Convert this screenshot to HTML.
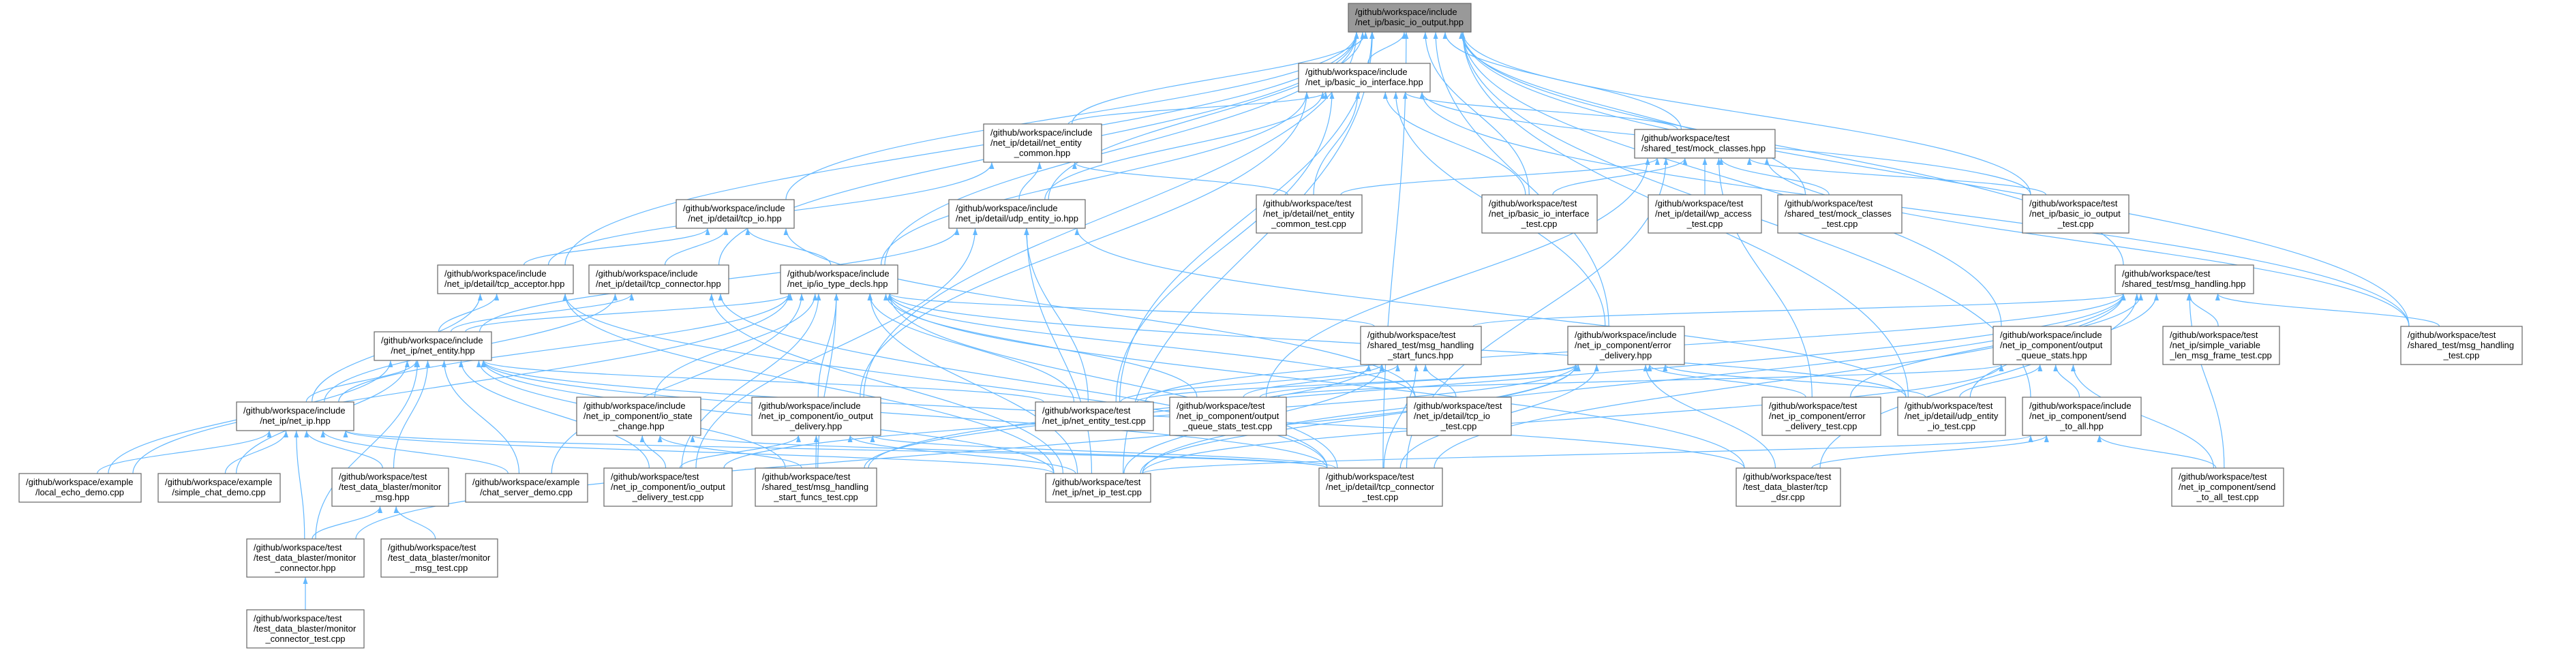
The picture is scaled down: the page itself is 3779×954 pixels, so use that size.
<!DOCTYPE html>
<html><head><meta charset="utf-8">
<style>
html,body{margin:0;padding:0;background:#fff;}
svg{display:block;}
text{font-family:"Liberation Sans",sans-serif;font-size:13px;fill:#000;}
</style></head><body>
<svg id="g" width="3779" height="954" viewBox="0 0 3779 954" xmlns="http://www.w3.org/2000/svg">
<defs><marker id="ar" viewBox="0 0 10 7" refX="10" refY="3.5" markerWidth="10" markerHeight="7" markerUnits="userSpaceOnUse" orient="auto"><path d="M0,0 L10,3.5 L0,7 z" fill="#63b8ff"/></marker></defs>
<g id="edges" fill="none" stroke="#63b8ff" stroke-width="1.2"></g>
<g id="nodes" stroke="#666" stroke-width="1.2">
<rect x="1978" y="5" width="180" height="42" fill="#999"/><text x="1988" y="22" stroke="none">/github/workspace/include</text><text x="1988" y="37" stroke="none">/net_ip/basic_io_output.hpp</text>
<rect x="1905" y="93" width="193" height="42" fill="#fff"/><text x="1915" y="110" stroke="none">/github/workspace/include</text><text x="1915" y="125" stroke="none">/net_ip/basic_io_interface.hpp</text>
<rect x="1443" y="182" width="173" height="56" fill="#fff"/><text x="1453" y="199" stroke="none">/github/workspace/include</text><text x="1453" y="214" stroke="none">/net_ip/detail/net_entity</text><text x="1529" y="229" stroke="none" text-anchor="middle">_common.hpp</text>
<rect x="2398" y="190" width="206" height="42" fill="#fff"/><text x="2408" y="207" stroke="none">/github/workspace/test</text><text x="2408" y="222" stroke="none">/shared_test/mock_classes.hpp</text>
<rect x="992" y="293" width="173" height="42" fill="#fff"/><text x="1002" y="310" stroke="none">/github/workspace/include</text><text x="1078" y="325" stroke="none" text-anchor="middle">/net_ip/detail/tcp_io.hpp</text>
<rect x="1392" y="293" width="200" height="42" fill="#fff"/><text x="1402" y="310" stroke="none">/github/workspace/include</text><text x="1402" y="325" stroke="none">/net_ip/detail/udp_entity_io.hpp</text>
<rect x="1843" y="286" width="155" height="56" fill="#fff"/><text x="1853" y="303" stroke="none">/github/workspace/test</text><text x="1853" y="318" stroke="none">/net_ip/detail/net_entity</text><text x="1920" y="333" stroke="none" text-anchor="middle">_common_test.cpp</text>
<rect x="2174" y="286" width="169" height="56" fill="#fff"/><text x="2184" y="303" stroke="none">/github/workspace/test</text><text x="2184" y="318" stroke="none">/net_ip/basic_io_interface</text><text x="2258" y="333" stroke="none" text-anchor="middle">_test.cpp</text>
<rect x="2418" y="286" width="166" height="56" fill="#fff"/><text x="2428" y="303" stroke="none">/github/workspace/test</text><text x="2428" y="318" stroke="none">/net_ip/detail/wp_access</text><text x="2501" y="333" stroke="none" text-anchor="middle">_test.cpp</text>
<rect x="2608" y="286" width="182" height="56" fill="#fff"/><text x="2618" y="303" stroke="none">/github/workspace/test</text><text x="2618" y="318" stroke="none">/shared_test/mock_classes</text><text x="2699" y="333" stroke="none" text-anchor="middle">_test.cpp</text>
<rect x="2967" y="286" width="156" height="56" fill="#fff"/><text x="2977" y="303" stroke="none">/github/workspace/test</text><text x="2977" y="318" stroke="none">/net_ip/basic_io_output</text><text x="3045" y="333" stroke="none" text-anchor="middle">_test.cpp</text>
<rect x="642" y="389" width="199" height="42" fill="#fff"/><text x="652" y="406" stroke="none">/github/workspace/include</text><text x="652" y="421" stroke="none">/net_ip/detail/tcp_acceptor.hpp</text>
<rect x="864" y="389" width="205" height="42" fill="#fff"/><text x="874" y="406" stroke="none">/github/workspace/include</text><text x="874" y="421" stroke="none">/net_ip/detail/tcp_connector.hpp</text>
<rect x="1145" y="389" width="172" height="42" fill="#fff"/><text x="1155" y="406" stroke="none">/github/workspace/include</text><text x="1155" y="421" stroke="none">/net_ip/io_type_decls.hpp</text>
<rect x="3103" y="389" width="203" height="42" fill="#fff"/><text x="3113" y="406" stroke="none">/github/workspace/test</text><text x="3113" y="421" stroke="none">/shared_test/msg_handling.hpp</text>
<rect x="549" y="487" width="172" height="42" fill="#fff"/><text x="559" y="504" stroke="none">/github/workspace/include</text><text x="635" y="519" stroke="none" text-anchor="middle">/net_ip/net_entity.hpp</text>
<rect x="1996" y="479" width="177" height="56" fill="#fff"/><text x="2006" y="496" stroke="none">/github/workspace/test</text><text x="2006" y="511" stroke="none">/shared_test/msg_handling</text><text x="2084" y="526" stroke="none" text-anchor="middle">_start_funcs.hpp</text>
<rect x="2300" y="479" width="171" height="56" fill="#fff"/><text x="2310" y="496" stroke="none">/github/workspace/include</text><text x="2310" y="511" stroke="none">/net_ip_component/error</text><text x="2385" y="526" stroke="none" text-anchor="middle">_delivery.hpp</text>
<rect x="2924" y="479" width="173" height="56" fill="#fff"/><text x="2934" y="496" stroke="none">/github/workspace/include</text><text x="2934" y="511" stroke="none">/net_ip_component/output</text><text x="3010" y="526" stroke="none" text-anchor="middle">_queue_stats.hpp</text>
<rect x="3173" y="479" width="171" height="56" fill="#fff"/><text x="3183" y="496" stroke="none">/github/workspace/test</text><text x="3183" y="511" stroke="none">/net_ip/simple_variable</text><text x="3258" y="526" stroke="none" text-anchor="middle">_len_msg_frame_test.cpp</text>
<rect x="3522" y="479" width="178" height="56" fill="#fff"/><text x="3532" y="496" stroke="none">/github/workspace/test</text><text x="3532" y="511" stroke="none">/shared_test/msg_handling</text><text x="3611" y="526" stroke="none" text-anchor="middle">_test.cpp</text>
<rect x="347" y="590" width="172" height="42" fill="#fff"/><text x="357" y="607" stroke="none">/github/workspace/include</text><text x="433" y="622" stroke="none" text-anchor="middle">/net_ip/net_ip.hpp</text>
<rect x="846" y="583" width="182" height="56" fill="#fff"/><text x="856" y="600" stroke="none">/github/workspace/include</text><text x="856" y="615" stroke="none">/net_ip_component/io_state</text><text x="937" y="630" stroke="none" text-anchor="middle">_change.hpp</text>
<rect x="1103" y="583" width="189" height="56" fill="#fff"/><text x="1113" y="600" stroke="none">/github/workspace/include</text><text x="1113" y="615" stroke="none">/net_ip_component/io_output</text><text x="1197" y="630" stroke="none" text-anchor="middle">_delivery.hpp</text>
<rect x="1519" y="590" width="173" height="42" fill="#fff"/><text x="1529" y="607" stroke="none">/github/workspace/test</text><text x="1529" y="622" stroke="none">/net_ip/net_entity_test.cpp</text>
<rect x="1716" y="583" width="171" height="56" fill="#fff"/><text x="1726" y="600" stroke="none">/github/workspace/test</text><text x="1726" y="615" stroke="none">/net_ip_component/output</text><text x="1801" y="630" stroke="none" text-anchor="middle">_queue_stats_test.cpp</text>
<rect x="2064" y="583" width="153" height="56" fill="#fff"/><text x="2074" y="600" stroke="none">/github/workspace/test</text><text x="2074" y="615" stroke="none">/net_ip/detail/tcp_io</text><text x="2140" y="630" stroke="none" text-anchor="middle">_test.cpp</text>
<rect x="2585" y="583" width="174" height="56" fill="#fff"/><text x="2595" y="600" stroke="none">/github/workspace/test</text><text x="2595" y="615" stroke="none">/net_ip_component/error</text><text x="2672" y="630" stroke="none" text-anchor="middle">_delivery_test.cpp</text>
<rect x="2784" y="583" width="158" height="56" fill="#fff"/><text x="2794" y="600" stroke="none">/github/workspace/test</text><text x="2794" y="615" stroke="none">/net_ip/detail/udp_entity</text><text x="2863" y="630" stroke="none" text-anchor="middle">_io_test.cpp</text>
<rect x="2967" y="583" width="174" height="56" fill="#fff"/><text x="2977" y="600" stroke="none">/github/workspace/include</text><text x="2977" y="615" stroke="none">/net_ip_component/send</text><text x="3054" y="630" stroke="none" text-anchor="middle">_to_all.hpp</text>
<rect x="28" y="695" width="179" height="42" fill="#fff"/><text x="38" y="712" stroke="none">/github/workspace/example</text><text x="117" y="727" stroke="none" text-anchor="middle">/local_echo_demo.cpp</text>
<rect x="232" y="695" width="179" height="42" fill="#fff"/><text x="242" y="712" stroke="none">/github/workspace/example</text><text x="321" y="727" stroke="none" text-anchor="middle">/simple_chat_demo.cpp</text>
<rect x="487" y="687" width="171" height="56" fill="#fff"/><text x="497" y="704" stroke="none">/github/workspace/test</text><text x="497" y="719" stroke="none">/test_data_blaster/monitor</text><text x="572" y="734" stroke="none" text-anchor="middle">_msg.hpp</text>
<rect x="683" y="695" width="179" height="42" fill="#fff"/><text x="693" y="712" stroke="none">/github/workspace/example</text><text x="772" y="727" stroke="none" text-anchor="middle">/chat_server_demo.cpp</text>
<rect x="886" y="687" width="188" height="56" fill="#fff"/><text x="896" y="704" stroke="none">/github/workspace/test</text><text x="896" y="719" stroke="none">/net_ip_component/io_output</text><text x="980" y="734" stroke="none" text-anchor="middle">_delivery_test.cpp</text>
<rect x="1108" y="687" width="178" height="56" fill="#fff"/><text x="1118" y="704" stroke="none">/github/workspace/test</text><text x="1118" y="719" stroke="none">/shared_test/msg_handling</text><text x="1197" y="734" stroke="none" text-anchor="middle">_start_funcs_test.cpp</text>
<rect x="1534" y="695" width="154" height="42" fill="#fff"/><text x="1544" y="712" stroke="none">/github/workspace/test</text><text x="1544" y="727" stroke="none">/net_ip/net_ip_test.cpp</text>
<rect x="1935" y="687" width="181" height="56" fill="#fff"/><text x="1945" y="704" stroke="none">/github/workspace/test</text><text x="1945" y="719" stroke="none">/net_ip/detail/tcp_connector</text><text x="2025" y="734" stroke="none" text-anchor="middle">_test.cpp</text>
<rect x="2547" y="687" width="153" height="56" fill="#fff"/><text x="2557" y="704" stroke="none">/github/workspace/test</text><text x="2557" y="719" stroke="none">/test_data_blaster/tcp</text><text x="2623" y="734" stroke="none" text-anchor="middle">_dsr.cpp</text>
<rect x="3186" y="687" width="164" height="56" fill="#fff"/><text x="3196" y="704" stroke="none">/github/workspace/test</text><text x="3196" y="719" stroke="none">/net_ip_component/send</text><text x="3268" y="734" stroke="none" text-anchor="middle">_to_all_test.cpp</text>
<rect x="362" y="791" width="172" height="56" fill="#fff"/><text x="372" y="808" stroke="none">/github/workspace/test</text><text x="372" y="823" stroke="none">/test_data_blaster/monitor</text><text x="448" y="838" stroke="none" text-anchor="middle">_connector.hpp</text>
<rect x="559" y="791" width="171" height="56" fill="#fff"/><text x="569" y="808" stroke="none">/github/workspace/test</text><text x="569" y="823" stroke="none">/test_data_blaster/monitor</text><text x="644" y="838" stroke="none" text-anchor="middle">_msg_test.cpp</text>
<rect x="362" y="895" width="172" height="56" fill="#fff"/><text x="372" y="912" stroke="none">/github/workspace/test</text><text x="372" y="927" stroke="none">/test_data_blaster/monitor</text><text x="448" y="942" stroke="none" text-anchor="middle">_connector_test.cpp</text>
</g>
</svg>
<script>
var N={A:[1978,5,180,42],B:[1905,93,193,42],C:[1443,182,173,56],D:[2398,190,206,42],E:[992,293,173,42],F:[1392,293,200,42],G:[1843,286,155,56],H:[2174,286,169,56],I:[2418,286,166,56],J:[2608,286,182,56],K:[2967,286,156,56],L:[642,389,199,42],M:[864,389,205,42],Nn:[1145,389,172,42],O:[3103,389,203,42],P:[549,487,172,42],Q:[1996,479,177,56],R:[2300,479,171,56],S:[2924,479,173,56],T:[3173,479,171,56],U:[3522,479,178,56],V:[347,590,172,42],W:[846,583,182,56],X:[1103,583,189,56],Y:[1519,590,173,42],Z:[1716,583,171,56],a:[2064,583,153,56],b:[2585,583,174,56],c:[2784,583,158,56],d:[2967,583,174,56],e:[28,695,179,42],f:[232,695,179,42],g:[487,687,171,56],h:[683,695,179,42],i:[886,687,188,56],j:[1108,687,178,56],k:[1534,695,154,42],l:[1935,687,181,56],m:[2547,687,153,56],n:[3186,687,164,56],o:[362,791,172,56],p:[559,791,171,56],q:[362,895,172,56]};
var E={A:"B D E F L M Nn H K J O R S d c k Y l U X C",B:"C D F G H Nn R X Y K U",C:"F L G",D:"G H I J K Z b U l",E:"L M Nn a",F:"P c i k Y",L:"P V k l",M:"P V l k",Nn:"P Q V W X Y Z a c h e i l m k j",O:"Q T U c k l m j b n Y",P:"V g e f h i j k l m o Y",Q:"Y Z a l j k",R:"Y Z b c i k l m o",S:"Z c d k n",V:"e f g h o k l",W:"i j l",X:"i j k l",d:"n k m",g:"o p",o:"q"};
var G=document.getElementById('edges'),ns='http://www.w3.org/2000/svg',h='';
for(var t in E){var T=N[t];E[t].split(' ').forEach(function(s){var S=N[s];if(!S)return;
var tcx=T[0]+T[2]/2,scx=S[0]+S[2]/2;var off=(scx-tcx)*0.12;var lim=T[2]/2-12;off=Math.max(-lim,Math.min(lim,off));
var tx=tcx+off,ty=T[1]+T[3];var soff=(tcx-scx)*0.08;var sl=S[2]/2-12;soff=Math.max(-sl,Math.min(sl,soff));
var sx=scx+soff,sy=S[1];var dy=sy-ty;
h+='<path d="M'+sx.toFixed(1)+','+sy+' C'+sx.toFixed(1)+','+(sy-dy*0.45).toFixed(1)+' '+tx.toFixed(1)+','+(ty+dy*0.45).toFixed(1)+' '+tx.toFixed(1)+','+ty+'" marker-end="url(#ar)"/>';});}
G.innerHTML=h;
</script>
</body></html>
